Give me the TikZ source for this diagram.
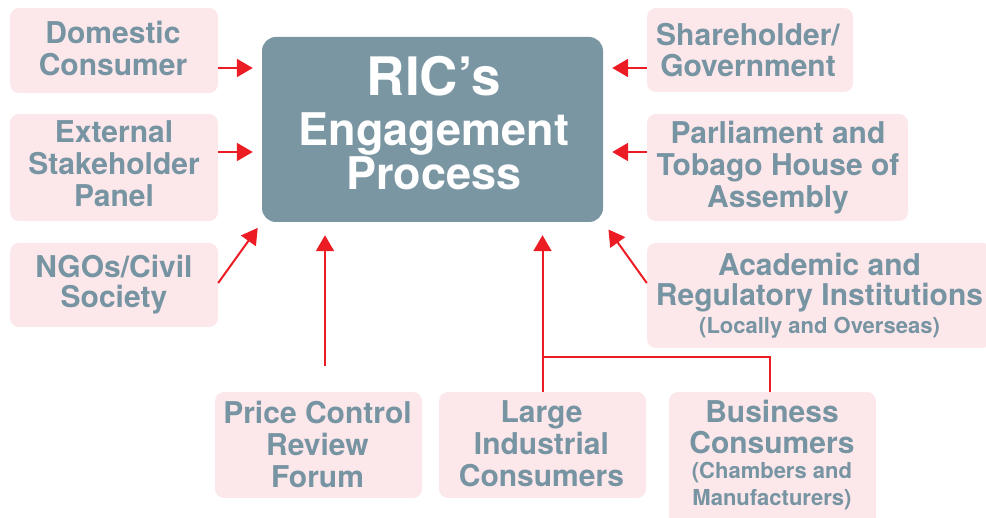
\documentclass[tikz,border=0pt]{standalone}
\usepackage{fontspec}
\setmainfont{TeX Gyre Heros}
\usetikzlibrary{arrows.meta}
\definecolor{boxpink}{HTML}{FCE7EA}
\definecolor{txtblue}{HTML}{7694A2}
\definecolor{centerfill}{HTML}{7A96A3}
\definecolor{arrred}{HTML}{EC1C24}
\newcommand{\smtxt}{\fontsize{22}{27}\selectfont}
\begin{document}
\begin{tikzpicture}[x=1pt,y=-1pt,
  pinkbox/.style={rectangle, rounded corners=9pt, fill=boxpink, inner sep=0pt},
  centerbox/.style={rectangle, rounded corners=14pt, fill=centerfill, inner sep=0pt,
    minimum width=341pt, minimum height=185pt},
  boxtxt/.style={text=txtblue, font=\bfseries\fontsize{30}{32}\selectfont, align=center, inner sep=0pt},
  centertxt/.style={text=white, font=\bfseries\fontsize{45}{44}\selectfont, align=center, inner sep=0pt},
  arr/.style={draw=arrred, line width=2pt, -{Triangle[length=16pt,width=18pt]}},
  conn/.style={draw=arrred, line width=2pt}]
\useasboundingbox (0,0) rectangle (986,518);

% boxes
\node[pinkbox, minimum width=208pt, minimum height=85pt] (dom) at (114,50.5) {};
\node[pinkbox, minimum width=208pt, minimum height=107pt] (ext) at (114,167.5) {};
\node[pinkbox, minimum width=208pt, minimum height=84pt] (ngo) at (114,285) {};
\node[centerbox] (ric) at (432.5,129.5) {};
\node[pinkbox, minimum width=206pt, minimum height=84pt] (sh) at (750,50) {};
\node[pinkbox, minimum width=261pt, minimum height=107pt] (par) at (777.5,167.5) {};
\node[pinkbox, minimum width=345pt, minimum height=105pt] (aca) at (819.5,295.5) {};
\node[pinkbox, minimum width=207pt, minimum height=106pt] (pcr) at (318.5,445) {};
\node[pinkbox, minimum width=207pt, minimum height=106pt] (lic) at (542.5,445) {};
\node[pinkbox, minimum width=207pt, minimum height=136pt] (bus) at (772.5,460) {};

% texts
\node[boxtxt] (domt) at (113,48.2) {Domestic\\Consumer};
\node[boxtxt] (extt) at (114,164.2) {External\\Stakeholder\\Panel};
\node[boxtxt] (ngot) at (114,284.3) {NGOs/Civil\\[-2pt]Society};
\node[centertxt] (rict) at (434,123) {{\fontsize{53}{53}\selectfont RIC’s}\\[6pt]Engagement\\Process};
\node[boxtxt] (sht) at (748,49.7) {Shareholder/\\[-1pt]Government};
\node[boxtxt] (part) at (778,167.3) {Parliament and\\Tobago House of\\Assembly};
\node[boxtxt] (acat) at (819.5,295.5) {Academic and\\[-2pt]Regulatory Institutions\\[-4pt]{\smtxt (Locally and Overseas)}};
\node[boxtxt] (pcrt) at (317.5,444.2) {Price Control\\Review\\Forum};
\node[boxtxt] (lict) at (541.5,444.2) {Large\\Industrial\\Consumers};
\node[boxtxt] (bust) at (772,455) {Business\\[-1pt]Consumers\\[-7pt]{\smtxt (Chambers and}\\[-5pt]{\smtxt Manufacturers)}};

% connectors
\draw[arr, shorten >=9pt] ([yshift=-17.5pt]dom.east) -- ([yshift=61.5pt]ric.west);
\draw[arr, shorten >=9pt] ([yshift=15.5pt]ext.east) -- ([yshift=-22.5pt]ric.west);
\draw[arr, shorten >=9pt] ([yshift=-18pt]sh.west) -- ([yshift=61.5pt]ric.east);
\draw[arr, shorten >=9pt] ([yshift=15.5pt]par.west) -- ([yshift=-22.5pt]ric.east);
\draw[arr, shorten >=7pt] ([yshift=2pt]ngo.east) -- (ric.south west);
\draw[arr, shorten >=9pt] ([yshift=12.5pt]aca.west) -- (ric.south east);
\coordinate (pst) at ([xshift=6.5pt,yshift=26pt]pcr.north);
\draw[arr, shorten >=13pt] (pst) -- (pst |- ric.south);
\draw[arr, shorten >=13pt] (lic.north) -- (lic.north |- ric.south);
\coordinate (j) at ([yshift=35pt]lic.north);
\draw[conn] ([xshift=-2.5pt]bus.north) |- (j);
\end{tikzpicture}
\end{document}
